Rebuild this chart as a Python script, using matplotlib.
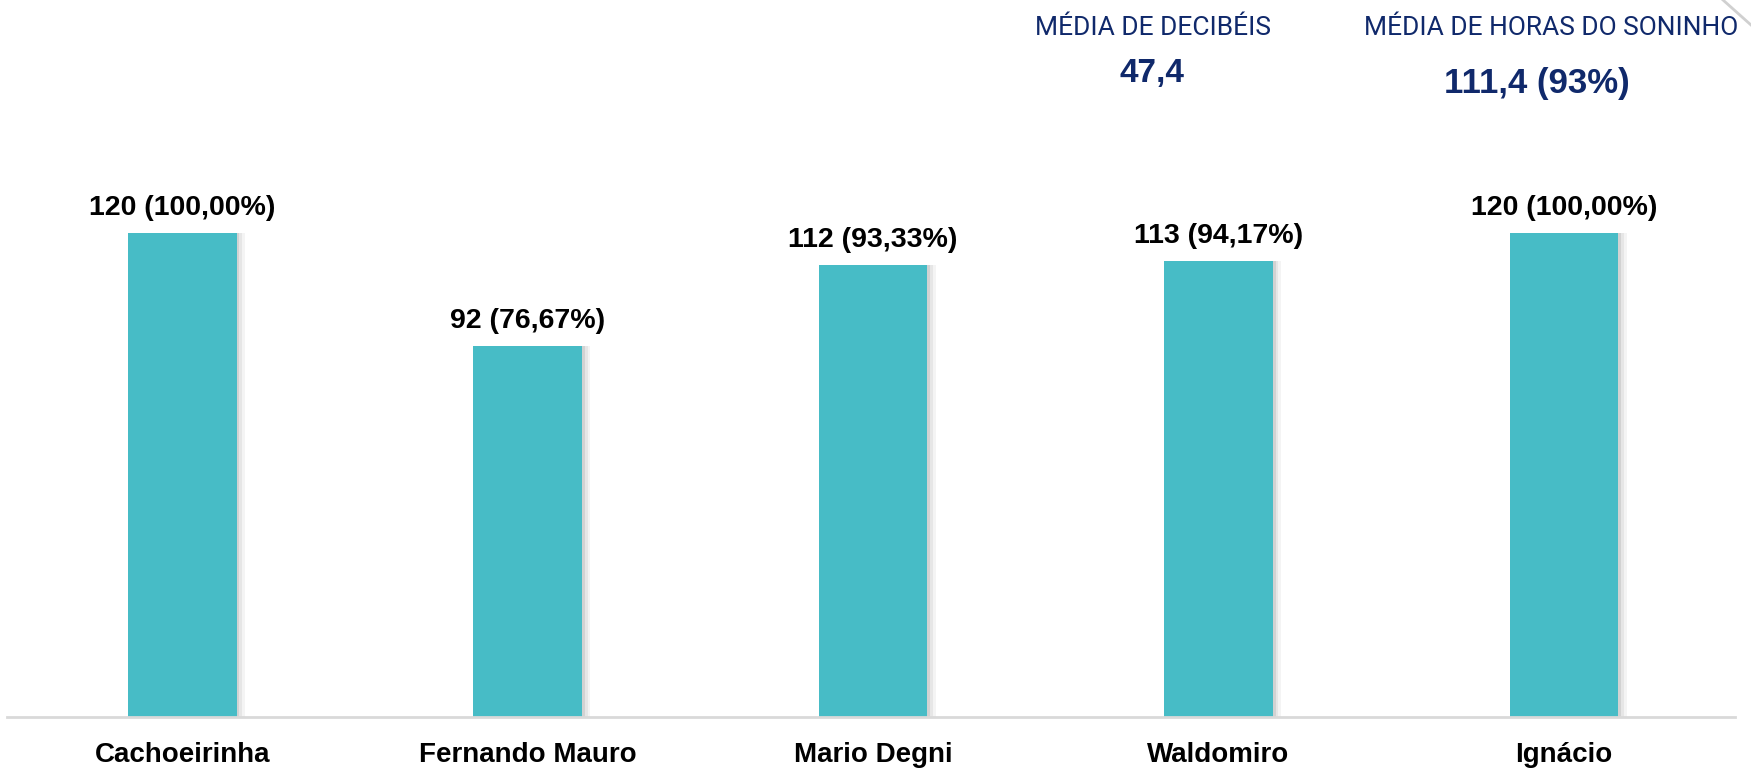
import matplotlib.pyplot as plt
from matplotlib.lines import Line2D

names = ["Cachoeirinha", "Fernando Mauro", "Mario Degni", "Waldomiro", "Ignácio"]
values = [120, 92, 112, 113, 120]
labels = ["120 (100,00%)", "92 (76,67%)", "112 (93,33%)", "113 (94,17%)", "120 (100,00%)"]

db_title = "MÉDIA DE DECIBÉIS"
db_value = "47,4"
sleep_title = "MÉDIA DE HORAS DO SONINHO"
sleep_value = "111,4 (93%)"

teal = '#47bcc6'
navy = '#10296b'

fig = plt.figure(figsize=(17.51, 7.69), dpi=100)
ax = fig.add_axes([7 / 1751, 52 / 769, 1728 / 1751, 617 / 769])

x = list(range(len(names)))

# soft shadow on the right side of the bars
for off, a in [(0.024, 0.10), (0.016, 0.15), (0.008, 0.25)]:
    ax.bar([i + off for i in x], values, width=0.315, color='#9a9a9a', alpha=a, zorder=1, linewidth=0)
ax.bar(x, values, width=0.315, color=teal, zorder=2, linewidth=0)

for i, (v, lab) in enumerate(zip(values, labels)):
    ax.annotate(lab, (i, v), xytext=(0, 13), textcoords='offset points',
                ha='center', va='baseline', fontsize=20.5, fontweight='bold',
                family='Liberation Sans', color='black')

ax.set_xlim(-0.507, 4.495)
ax.set_ylim(0, 153)
ax.set_xticks(x)
ax.set_xticklabels(names, fontsize=20, fontweight='bold', family='Liberation Sans')
ax.tick_params(axis='x', length=0, pad=18)
ax.set_yticks([])
for s in ['top', 'right', 'left']:
    ax.spines[s].set_visible(False)
ax.spines['bottom'].set_color('#d9d9d9')
ax.spines['bottom'].set_linewidth(2)

fig.text(1153 / 1751, 1 - 35 / 769, db_title, ha='center', va='baseline',
         fontsize=19, family='Roboto', color=navy)
fig.text(1152 / 1751, 1 - 82 / 769, db_value, ha='center', va='baseline',
         fontsize=24, fontweight='bold', family='Liberation Sans', color=navy)
fig.text(1551 / 1751, 1 - 35 / 769, sleep_title, ha='center', va='baseline',
         fontsize=19, family='Roboto', color=navy)
fig.text(1537 / 1751, 1 - 93 / 769, sleep_value, ha='center', va='baseline',
         fontsize=25, fontweight='bold', family='Liberation Sans', color=navy)

# grey edge of a shape in the top right corner
fig.add_artist(Line2D([1723 / 1751, 1], [1, 1 - 25 / 769], transform=fig.transFigure,
                      color='#d0d0d0', linewidth=2))

fig.savefig('out.png', dpi=100)
